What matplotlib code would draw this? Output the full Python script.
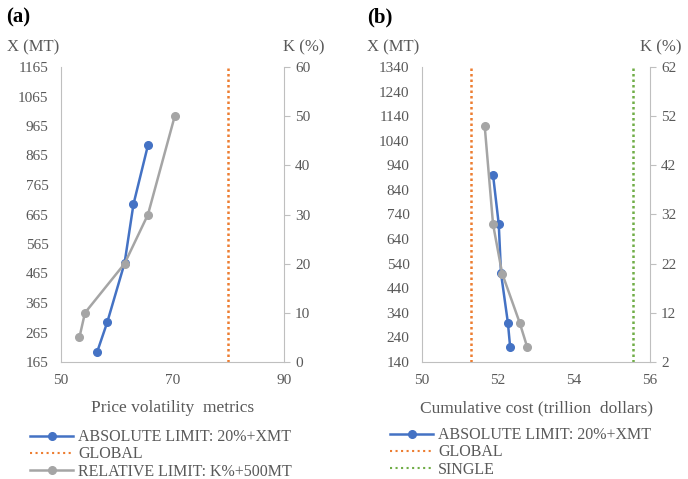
import matplotlib
matplotlib.use("Agg")
import matplotlib.pyplot as plt
from matplotlib.lines import Line2D

# ---- data ----
# panel (a): price volatility metrics
a_abs_x = [56.5, 58.3, 61.4, 63.0, 65.6]      # price volatility
a_abs_X = [200, 300, 500, 700, 900]           # X (MT)
a_rel_x = [53.3, 54.3, 61.4, 65.6, 70.4]
a_rel_K = [5, 10, 20, 30, 50]                 # K (%)
a_global = 80

# panel (b): cumulative cost
b_abs_x = [52.32, 52.26, 52.08, 52.02, 51.87]
b_abs_X = [200, 300, 500, 700, 900]
b_rel_x = [52.77, 52.57, 52.11, 51.87, 51.65]
b_rel_K = [5, 10, 20, 30, 50]
b_global = 51.3
b_single = 55.55

a_left_ticks = list(range(165, 1166, 100))
a_right_ticks = list(range(0, 61, 10))
a_x_ticks = [50, 70, 90]
b_left_ticks = list(range(140, 1341, 100))
b_right_ticks = list(range(2, 63, 10))
b_x_ticks = [50, 52, 54, 56]

BLUE = "#4472C4"
ORANGE = "#ED7D31"
GRAY = "#A5A5A5"
GREEN = "#70AD47"
TXT = "#595959"
SPINE = "#BFBFBF"

plt.rcParams['font.family'] = ['Liberation Serif', 'DejaVu Serif']

W, H = 688, 479
fig = plt.figure(figsize=(W / 100, H / 100), dpi=100)


def fx(px):
    return px / W


def fy(py):
    return 1 - py / H


LW = 1.8
MS = 5.5


def make_panel(l, r, t, b, xlim, xticks, lticks, rticks, xlabel):
    ax = fig.add_axes([fx(l), fy(b), fx(r - l), (b - t) / H])
    ax2 = ax.twinx()
    ax.set_xlim(*xlim)
    ax.set_ylim(lticks[0], lticks[-1])
    ax2.set_ylim(rticks[0], rticks[-1])
    ax.set_xticks(xticks)
    ax.set_yticks(lticks)
    ax2.set_yticks(rticks)
    for a in (ax, ax2):
        for s in a.spines.values():
            s.set_visible(False)
        a.tick_params(colors=SPINE, labelcolor=TXT, labelsize=11)
    ax.spines['left'].set_visible(True)
    ax.spines['left'].set_color(SPINE)
    ax.spines['bottom'].set_visible(True)
    ax.spines['bottom'].set_color(SPINE)
    ax2.spines['right'].set_visible(True)
    ax2.spines['right'].set_color(SPINE)
    ax.tick_params(axis='y', length=0, pad=9)
    ax.tick_params(axis='x', length=0, pad=9)
    ax2.tick_params(axis='y', length=4, width=0.8, pad=4)
    ax.set_xlabel(xlabel, fontsize=12.5, color=TXT, labelpad=9)
    return ax, ax2


# panel (a)
ax, ax2 = make_panel(61, 284, 67, 362, (50, 90), a_x_ticks, a_left_ticks,
                     a_right_ticks, "Price volatility  metrics")
ax.axvline(a_global, color=ORANGE, lw=1.8, ls=(0, (1, 1.2)))
ax.plot(a_abs_x, a_abs_X, color=BLUE, lw=LW, marker='o', ms=MS, zorder=3)
ax2.plot(a_rel_x, a_rel_K, color=GRAY, lw=LW, marker='o', ms=MS, zorder=3)

# panel (b)
bx, bx2 = make_panel(422, 650, 67, 362, (50, 56), b_x_ticks, b_left_ticks,
                     b_right_ticks, "Cumulative cost (trillion  dollars)")
bx.axvline(b_global, color=ORANGE, lw=1.8, ls=(0, (1, 1.2)))
bx.axvline(b_single, color=GREEN, lw=1.8, ls=(0, (1, 1.2)))
bx.plot(b_abs_x, b_abs_X, color=BLUE, lw=LW, marker='o', ms=MS, zorder=3)
bx2.plot(b_rel_x, b_rel_K, color=GRAY, lw=LW, marker='o', ms=MS, zorder=3)

# titles / axis captions
fig.text(fx(6), fy(17), "(a)", fontsize=15, fontweight='bold', va='center', ha='left')
fig.text(fx(367), fy(17), "(b)", fontsize=15, fontweight='bold', va='center', ha='left')
for x0, s in [(7, "X (MT)"), (283, "K (%)"), (367, "X (MT)"), (640, "K (%)")]:
    fig.text(fx(x0), fy(47), s, fontsize=12, color=TXT, va='center', ha='left')

# legends
def h(color, marker=None, ls='-'):
    return Line2D([], [], color=color, lw=LW if ls == '-' else 1.5, ls=ls,
                  marker=marker, ms=MS)

leg_kw = dict(loc='upper left', frameon=False, fontsize=11.5, handlelength=2.7,
              handletextpad=0.3, labelspacing=0.08, borderpad=0, labelcolor=TXT,
              handleheight=0.5)
leg_a = fig.legend([h(BLUE, 'o'), h(ORANGE, None, ':'), h(GRAY, 'o')],
                   ["ABSOLUTE LIMIT: 20%+XMT", "GLOBAL", "RELATIVE LIMIT: K%+500MT"],
                   bbox_to_anchor=(fx(22), fy(421)), **leg_kw)
leg_b = fig.legend([h(BLUE, 'o'), h(ORANGE, None, ':'), h(GREEN, None, ':')],
                   ["ABSOLUTE LIMIT: 20%+XMT", "GLOBAL", "SINGLE"],
                   bbox_to_anchor=(fx(382), fy(419)), **leg_kw)

fig.savefig("out.png", dpi=100)
